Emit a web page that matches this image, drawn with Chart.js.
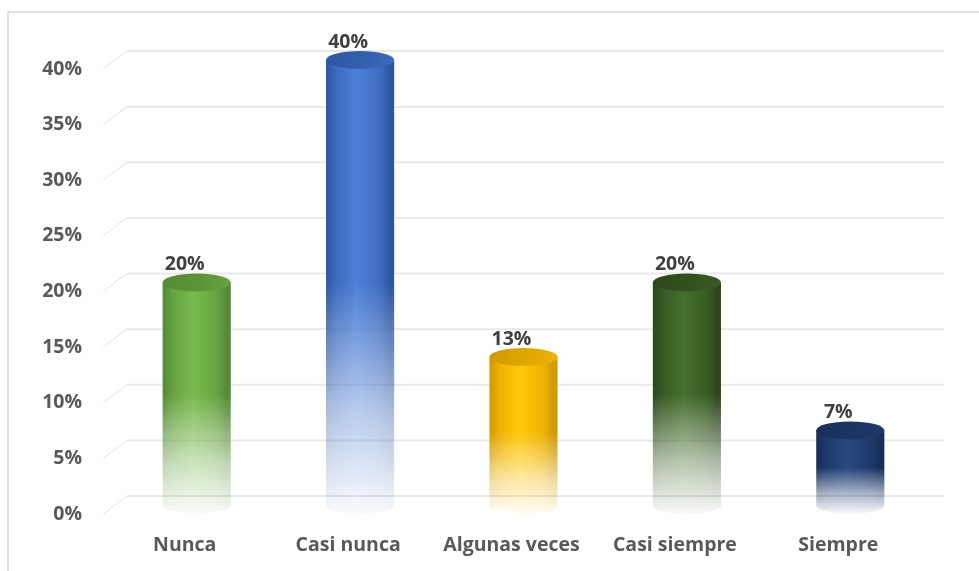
<!DOCTYPE html>
<html>
<head>
<meta charset="utf-8">
<script src="https://cdn.jsdelivr.net/npm/chart.js@4.4.1/dist/chart.umd.min.js"></script>
<style>
  body { margin: 0; background: #fff; overflow: hidden; }
  canvas { display: block; }
</style>
</head>
<body>
<canvas id="chart" width="979" height="571"></canvas>
<script>
// data (percent)
const categories = ['Nunca', 'Casi nunca', 'Algunas veces', 'Casi siempre', 'Siempre'];
const values = [20, 40, 13.3, 20, 6.7];
const yTicks = [0, 5, 10, 15, 20, 25, 30, 35, 40];

// cylinder colours: [edge, mid, light, top]
const barColors = [
  ['#558a33', '#66a340', '#78ba4e', '#5c9638'],
  ['#2d56a0', '#3d6bbf', '#4c80d8', '#3560ae'],
  ['#d09a00', '#eeb200', '#ffc90a', '#e0a800'],
  ['#2c461b', '#385b24', '#45702d', '#34531f'],
  ['#172e58', '#1f3a6b', '#28487f', '#1c3562']
];

const DX = 12, DY = 9;   // 3D depth offset front -> middle -> back
const RY = 9;            // ellipse half-height of the cylinder caps
const textFont = { family: 'Open Sans', size: 19.5, weight: 'bold' };

const frame = {
  id: 'frame',
  beforeDraw(chart) {
    const c = chart.ctx;
    c.save();
    c.strokeStyle = '#d6d6d6';
    c.lineWidth = 1.5;
    c.strokeRect(8, 12, chart.width + 10, chart.height + 10);
    c.restore();
  }
};

const backGrid = {
  id: 'backGrid',
  beforeDatasetsDraw(chart) {
    const c = chart.ctx, y = chart.scales.y, a = chart.chartArea;
    c.save();
    yTicks.forEach(v => {
      const py = y.getPixelForValue(v) - DY;
      c.strokeStyle = '#e9e9e9';
      c.lineWidth = 2;
      c.beginPath();
      c.moveTo(a.left + DX, py);
      c.lineTo(a.right + DX, py);
      c.stroke();
      c.strokeStyle = '#e2e2e2';
      c.lineWidth = 1;
      c.beginPath();
      c.moveTo(a.left - DX, py + 2 * DY);
      c.lineTo(a.left + DX, py);
      c.stroke();
    });
    c.restore();
  }
};

const cylinders = {
  id: 'cylinders',
  afterDatasetsDraw(chart) {
    const meta = chart.getDatasetMeta(0);
    const off = document.createElement('canvas');
    off.width = chart.width;
    off.height = chart.height;
    const o = off.getContext('2d');
    meta.data.forEach((el, i) => {
      const col = barColors[i];
      const cx = el.x, ty = el.y, by = el.base, rx = el.width / 2;
      o.globalCompositeOperation = 'source-over';
      // body
      const hg = o.createLinearGradient(cx - rx, 0, cx + rx, 0);
      hg.addColorStop(0, col[0]);
      hg.addColorStop(0.15, col[1]);
      hg.addColorStop(0.45, col[2]);
      hg.addColorStop(0.8, col[1]);
      hg.addColorStop(0.94, col[0]);
      hg.addColorStop(1, col[0]);
      o.fillStyle = hg;
      o.beginPath();
      o.moveTo(cx - rx, ty);
      o.lineTo(cx - rx, by);
      o.ellipse(cx, by, rx, RY, 0, Math.PI, 0, true);
      o.lineTo(cx + rx, ty);
      o.closePath();
      o.fill();
      // fade to white at the bottom
      const fadeTop = by - (by - ty) * 0.5;
      const vg = o.createLinearGradient(0, fadeTop, 0, by + RY);
      vg.addColorStop(0, 'rgba(0,0,0,0)');
      vg.addColorStop(0.55, 'rgba(0,0,0,0.6)');
      vg.addColorStop(1, 'rgba(0,0,0,0.97)');
      o.globalCompositeOperation = 'destination-out';
      o.fillStyle = vg;
      o.fillRect(cx - rx - 1, fadeTop, 2 * rx + 2, by + RY - fadeTop + 1);
      // top cap
      o.globalCompositeOperation = 'source-over';
      const tg = o.createLinearGradient(cx - rx, ty - RY, cx + rx, ty + RY);
      tg.addColorStop(0, col[0]);
      tg.addColorStop(0.6, col[3]);
      tg.addColorStop(1, col[1]);
      o.fillStyle = tg;
      o.beginPath();
      o.ellipse(cx, ty, rx, RY, 0, 0, Math.PI * 2);
      o.fill();
    });
    chart.ctx.drawImage(off, 0, 0);

    // value labels, placed on the front plane
    const c = chart.ctx;
    c.save();
    c.font = 'bold 19.5px "Open Sans"';
    c.fillStyle = '#404040';
    c.textAlign = 'center';
    c.textBaseline = 'middle';
    meta.data.forEach((el, i) => {
      c.fillText(Math.round(values[i]) + '%', el.x - DX, el.y + DY - 27);
    });
    c.restore();
  }
};

new Chart(document.getElementById('chart'), {
  type: 'bar',
  data: {
    labels: categories,
    datasets: [{
      data: values,
      backgroundColor: 'rgba(0,0,0,0)',
      borderWidth: 0,
      barPercentage: 0.417,
      categoryPercentage: 1
    }]
  },
  options: {
    responsive: false,
    animation: false,
    layout: { padding: { top: 60, right: 47, left: 0, bottom: 0 } },
    scales: {
      y: {
        min: 0,
        max: 40,
        afterFit: s => { s.width = 115; },
        afterBuildTicks: s => { s.ticks = yTicks.map(v => ({ value: v })); },
        ticks: {
          callback: v => v + '%',
          font: textFont,
          color: '#595959',
          padding: 33,
          labelOffset: DY
        },
        grid: { display: false, drawTicks: false },
        border: { display: false }
      },
      x: {
        afterFit: s => { s.height = 66; },
        ticks: {
          font: textFont,
          color: '#595959',
          padding: 29,
          labelOffset: -DX
        },
        grid: { display: false, drawTicks: false },
        border: { display: false }
      }
    },
    plugins: {
      legend: { display: false },
      tooltip: { enabled: false }
    }
  },
  plugins: [frame, backGrid, cylinders]
});
</script>
</body>
</html>
